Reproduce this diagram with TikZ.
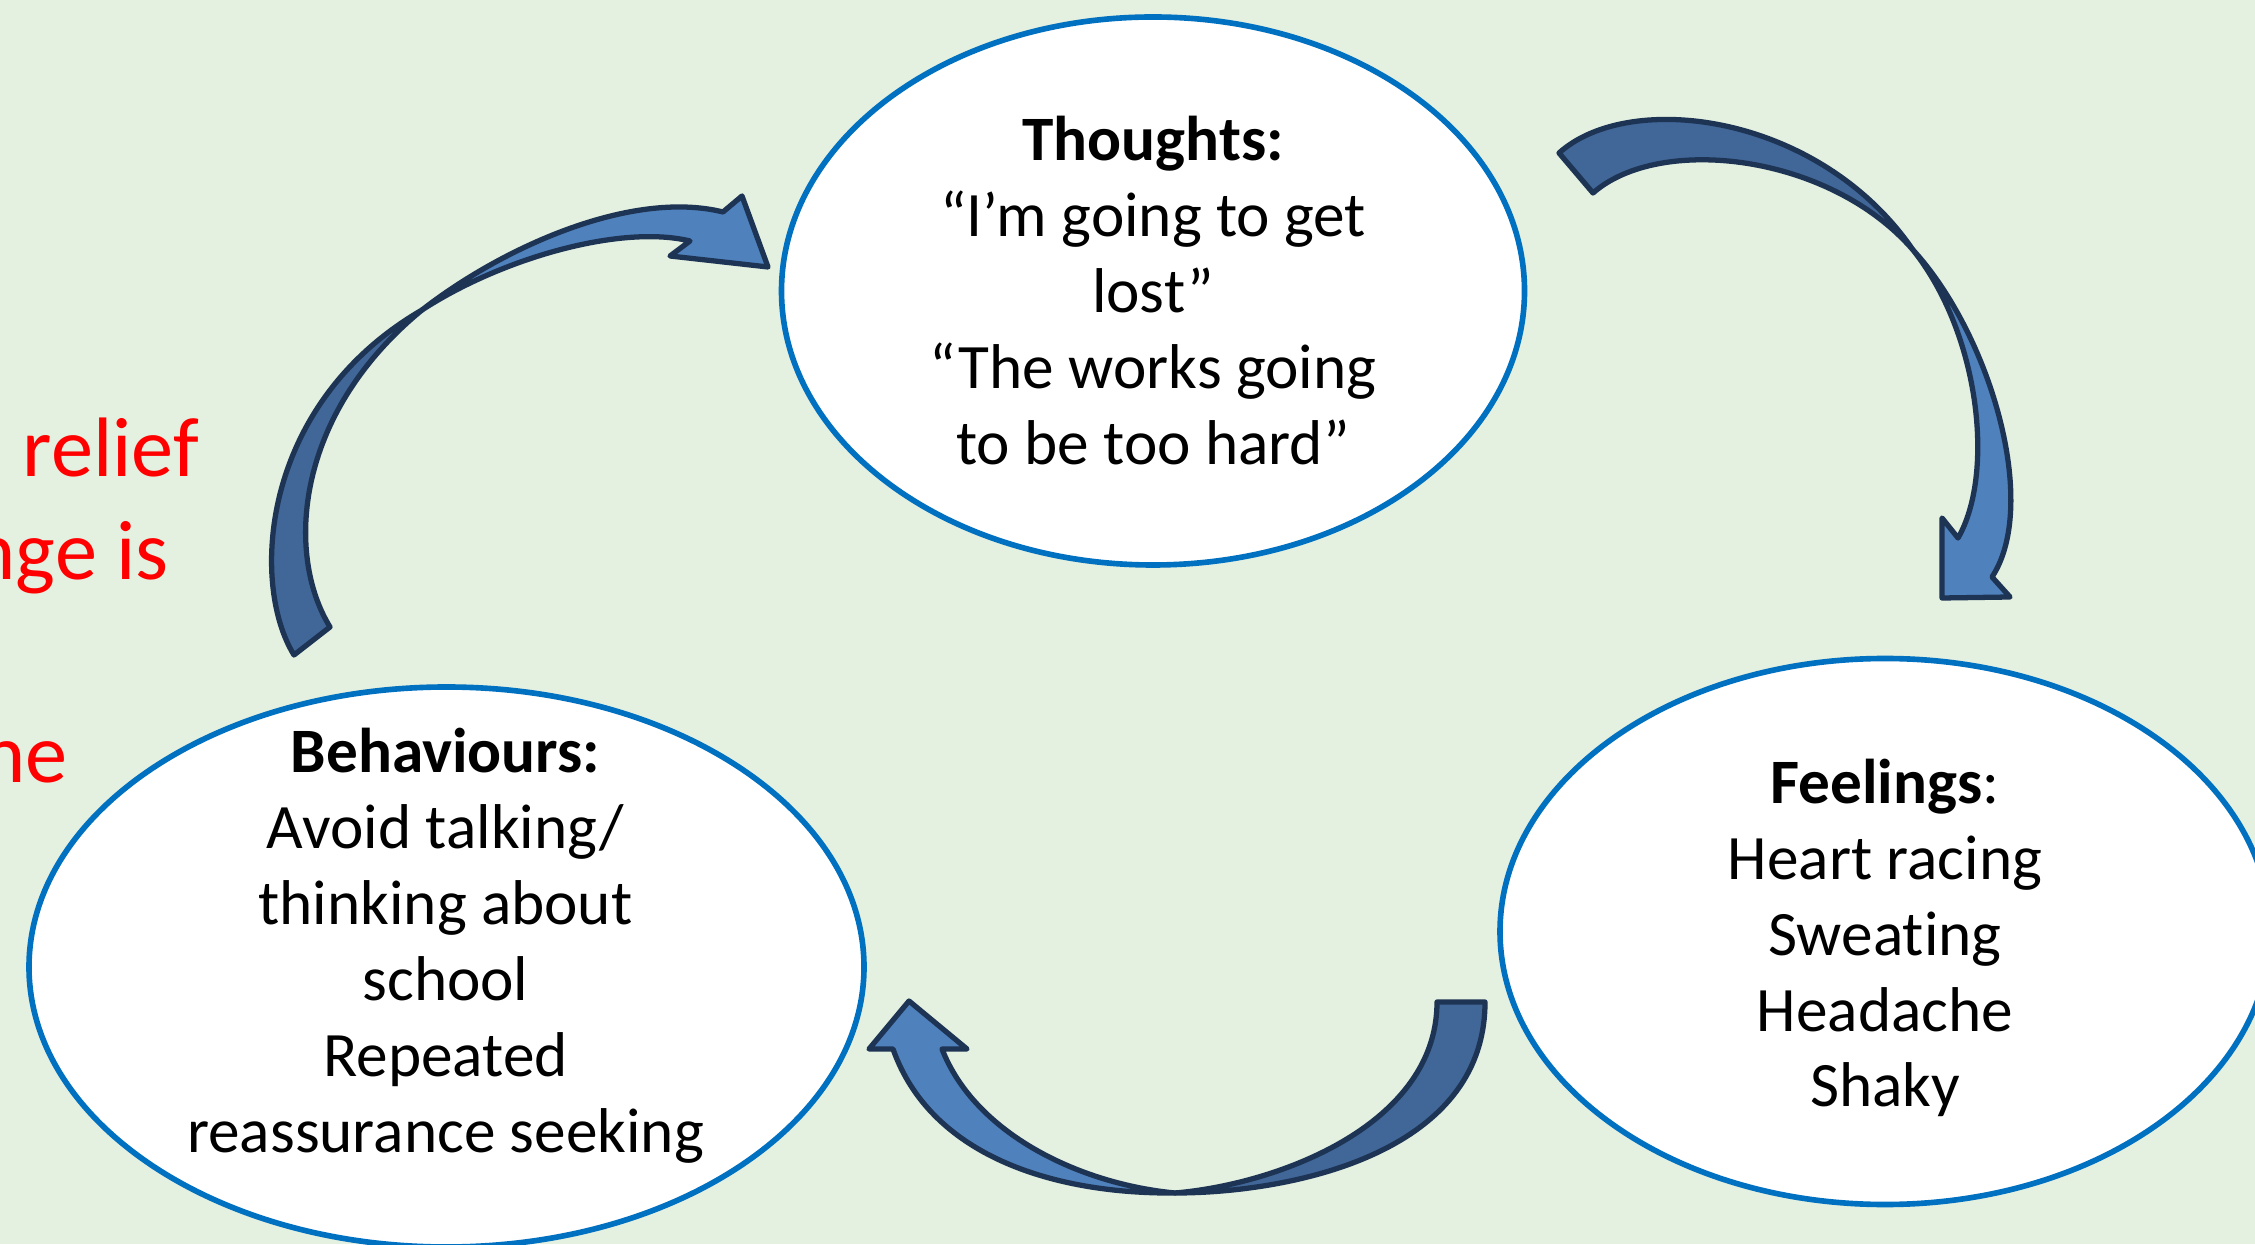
\documentclass[tikz,border=0pt]{standalone}
\usepackage{fontspec}
\setmainfont{Carlito}[Ligatures=NoCommon]
\usetikzlibrary{shapes.geometric}
\definecolor{paleground}{RGB}{228,240,224}
\definecolor{ringblue}{RGB}{0,112,192}
\definecolor{tailblue}{RGB}{64,103,152}
\definecolor{headblue}{RGB}{79,129,189}
\definecolor{edgenavy}{RGB}{30,52,84}
\tikzset{
  bubble/.style={ellipse, draw=ringblue, line width=1.6pt, fill=white, inner sep=0pt},
  bubbletext/.style={align=center, inner sep=0pt, font=\fontsize{18}{21.6}\selectfont},
  redline/.style={red, anchor=base west, inner sep=0pt, font=\fontsize{24}{29}\selectfont},
  tailpart/.style={fill=tailblue, draw=edgenavy, line width=1.5pt, line join=round},
  headpart/.style={fill=headblue, draw=edgenavy, line width=1.5pt, line join=round}
}

\begin{document}
\begin{tikzpicture}
\useasboundingbox (0,0) rectangle (22.55,12.44);
\clip (0,0) rectangle (22.55,12.44);
\fill[paleground] (0,0) rectangle (22.55,12.44);

\node[redline] (relief) at (0.22,7.67) {relief};
\node[redline] (change) at (-0.29,6.64) {nge is};
\node[redline] (tail) at (-0.19,4.61) {ne};

\node[bubble, minimum width=7.43cm, minimum height=5.48cm] (thoughts) at (11.53,9.53) {};
\node[bubble, minimum width=7.70cm, minimum height=5.46cm] (feelings) at (18.85,3.125) {};
\node[bubble, minimum width=8.35cm, minimum height=5.60cm] (behaviours) at (4.465,2.77) {};

\node[bubbletext] (thoughtstext) at (11.53,9.535) {\textbf{Thoughts:}\\“I’m going to get\\lost”\\“The works going\\to be too hard”};
\node[bubbletext] (feelingstext) at (18.85,3.06) {\textbf{Feelings}:\\Heart racing\\Sweating\\Headache\\Shaky};
\node[bubbletext] (behaviourstext) at (4.455,2.98) {\textbf{Behaviours:}\\Avoid talking/\\thinking about\\school\\Repeated\\reassurance seeking};

% thoughts to feelings
\filldraw[tailpart] (15.59,10.91) .. controls (16.3,11.55) and (18.2,11.3) .. (19.13,9.94) .. controls (18.3,10.9) and (16.6,11.1) .. (15.93,10.51) -- cycle;
\filldraw[headpart] (19.13,9.94) .. controls (19.9,9.1) and (20.4,7.4) .. (19.92,6.67) -- (20.10,6.47) -- (19.42,6.46) -- (19.42,7.26) -- (19.58,7.06) .. controls (19.95,7.7) and (19.8,9.1) .. (19.13,9.94) -- cycle;

% feelings to behaviours
\filldraw[tailpart] (14.37,2.42) -- (14.85,2.42) .. controls (14.85,0.9) and (12.9,0.51) .. (11.75,0.51) .. controls (12.8,0.6) and (14.37,1.2) .. (14.37,2.42) -- cycle;
\filldraw[headpart] (11.75,0.51) .. controls (10.5,0.5) and (9.3,0.9) .. (8.93,1.95) -- (8.69,1.95) -- (9.09,2.43) -- (9.67,1.95) -- (9.42,1.95) .. controls (9.75,1.1) and (10.8,0.6) .. (11.75,0.51) -- cycle;

% behaviours to thoughts
\filldraw[tailpart] (2.94,5.89) .. controls (2.5,6.6) and (2.6,8.4) .. (4.22,9.34) .. controls (2.95,8.3) and (2.85,6.9) .. (3.30,6.17) -- cycle;
\filldraw[headpart] (4.22,9.34) .. controls (5.0,9.95) and (6.3,10.55) .. (7.23,10.32) -- (7.42,10.48) -- (7.68,9.77) -- (6.70,9.88) -- (6.90,10.03) .. controls (6.2,10.2) and (5.0,9.85) .. (4.22,9.34) -- cycle;
\end{tikzpicture}
\end{document}
